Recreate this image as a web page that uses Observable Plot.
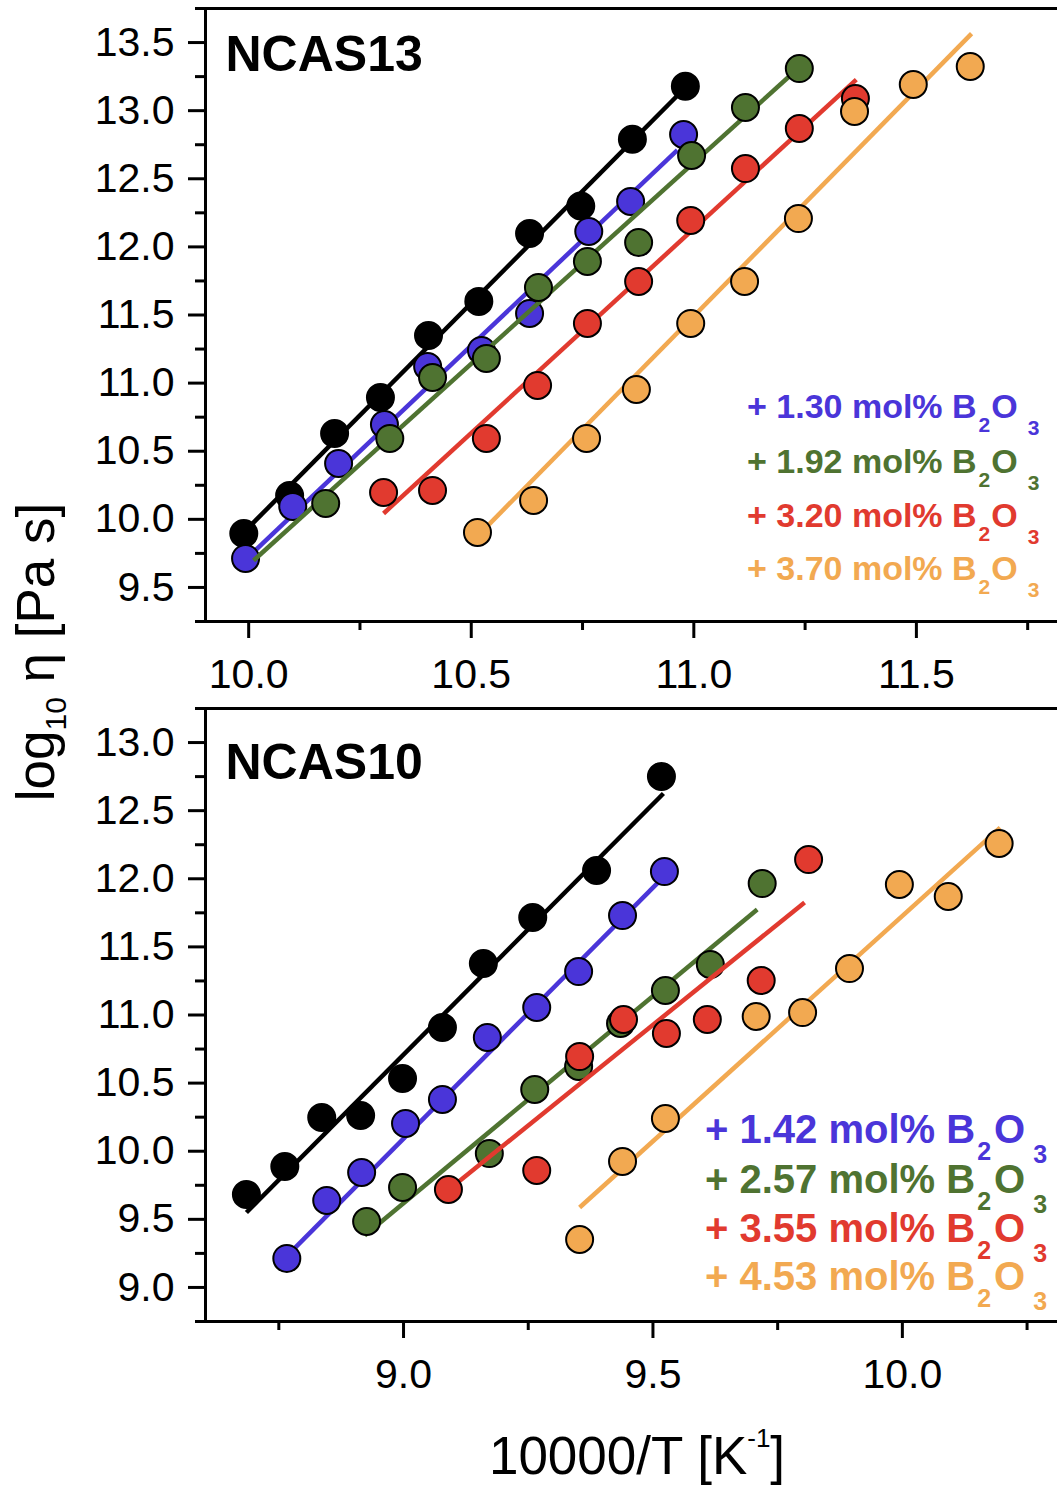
<!DOCTYPE html>
<html>
<head>
<meta charset="utf-8">
<script src="https://cdn.jsdelivr.net/npm/d3@7"></script>
<script src="https://cdn.jsdelivr.net/npm/@observablehq/plot@0.6"></script>
<style>
  html, body { margin: 0; padding: 0; background: #ffffff; }
  #wrap { position: relative; width: 1057px; height: 1494px; overflow: hidden; font-family: "Liberation Sans", Arial, sans-serif; }
  #top, #bottom { position: absolute; left: 0; }
  #top { top: 0; }
  #bottom { top: 700px; }
</style>
</head>
<body>
<div id="wrap">
  <div id="top"></div>
  <div id="bottom"></div>
</div>
<script>
// ---------- data ----------
const seriesColors = ["#000000", "#4a35d9", "#4f7331", "#e13a2f", "#f2a951"];

// NCAS13 panel: [10000/T, log10 eta]
const ncas13_base = [[9.989,9.896],[10.092,10.175],[10.193,10.63],[10.296,10.894],[10.404,11.35],[10.517,11.60],[10.631,12.098],[10.746,12.30],[10.862,12.79],[10.981,13.18]];
const ncas13_b130 = [[9.993,9.713],[10.099,10.095],[10.202,10.41],[10.305,10.696],[10.402,11.122],[10.523,11.24],[10.631,11.511],[10.764,12.113],[10.858,12.333],[10.977,12.825]];
const ncas13_b192 = [[10.173,10.117],[10.317,10.594],[10.413,11.041],[10.534,11.181],[10.651,11.702],[10.761,11.893],[10.876,12.032],[10.995,12.671],[11.116,13.023],[11.237,13.309]];
const ncas13_b320 = [[10.303,10.197],[10.413,10.212],[10.534,10.594],[10.649,10.983],[10.761,11.438],[10.876,11.746],[10.993,12.194],[11.116,12.575],[11.237,12.869],[11.363,13.089]];
const ncas13_b370 = [[10.514,9.904],[10.640,10.139],[10.759,10.594],[10.871,10.953],[10.993,11.438],[11.114,11.746],[11.235,12.208],[11.361,12.994],[11.493,13.192],[11.621,13.324]];
// fit lines: [x1, y1, x2, y2]
const ncas13_fits = [
  [9.993, 9.918, 10.975, 13.15],
  [9.998, 9.72, 10.963, 12.71],
  [10.011, 9.698, 11.224, 13.28],
  [10.303, 10.043, 11.365, 13.228],
  [10.518, 9.89, 11.624, 13.566]
];

// NCAS10 panel
const ncas10_base = [[8.685,9.683],[8.762,9.888],[8.836,10.248],[8.914,10.262],[8.998,10.534],[9.078,10.908],[9.160,11.378],[9.259,11.716],[9.387,12.061],[9.517,12.75]];
const ncas10_b142 = [[8.766,9.213],[8.846,9.639],[8.916,9.844],[9.004,10.204],[9.078,10.38],[9.168,10.835],[9.267,11.055],[9.351,11.319],[9.439,11.73],[9.523,12.053]];
const ncas10_b257 = [[8.926,9.484],[8.998,9.734],[9.172,9.983],[9.263,10.453],[9.351,10.622],[9.435,10.938],[9.525,11.18],[9.615,11.371],[9.719,11.965]];
const ncas10_b355 = [[9.090,9.719],[9.267,9.859],[9.353,10.695],[9.441,10.967],[9.527,10.864],[9.609,10.967],[9.717,11.253],[9.812,12.141]];
const ncas10_b453 = [[9.353,9.352],[9.439,9.925],[9.525,10.24],[9.707,10.989],[9.800,11.018],[9.894,11.341],[9.994,11.958],[10.092,11.87],[10.194,12.259]];
const ncas10_fits = [
  [8.685, 9.55, 9.521, 12.626],
  [8.766, 9.23, 9.515, 11.99],
  [8.922, 9.382, 9.709, 11.774],
  [9.088, 9.71, 9.804, 11.826],
  [9.353, 9.587, 10.196, 12.376]
];

// legends
const ncas13_legend = ["1.30", "1.92", "3.20", "3.70"];
const ncas10_legend = ["1.42", "2.57", "3.55", "4.53"];
const panelTitles = ["NCAS13", "NCAS10"];

// axes
const topXDomain = [9.903, 11.817];
const topYDomain = [9.25, 13.75];
const topXMajor = [10.0, 10.5, 11.0, 11.5];
const topXMinor = [10.25, 10.75, 11.25, 11.75];
const topYMajor = [9.5, 10.0, 10.5, 11.0, 11.5, 12.0, 12.5, 13.0, 13.5];
const topYMinor = [9.25, 9.75, 10.25, 10.75, 11.25, 11.75, 12.25, 12.75, 13.25, 13.75];

const botXDomain = [8.603, 10.311];
const botYDomain = [8.75, 13.25];
const botXMajor = [9.0, 9.5, 10.0];
const botXMinor = [8.75, 9.25, 9.75, 10.25];
const botYMajor = [9.0, 9.5, 10.0, 10.5, 11.0, 11.5, 12.0, 12.5, 13.0];
const botYMinor = [8.75, 9.25, 9.75, 10.25, 10.75, 11.25, 11.75, 12.25, 12.75, 13.25];

const yLabelParts = ["log", "10", " η [Pa s]"];
const xLabelParts = ["10000/T [K", "-1", "]"];

// ---------- drawing ----------
const fmt = d3.format(".1f");
const FONT = "Liberation Sans, Arial, sans-serif";

function panel({series, fits, xDomain, yDomain, xMajor, xMinor, yMajor, yMinor, title, titleDy, height, marginBottom}) {
  const marks = [];
  series.forEach((s, i) => {
    marks.push(Plot.link([fits[i]], {
      x1: d => d[0], y1: d => d[1], x2: d => d[2], y2: d => d[3],
      stroke: seriesColors[i], strokeWidth: 4.5
    }));
    marks.push(Plot.dot(s, {
      x: d => d[0], y: d => d[1], r: 13.5,
      fill: seriesColors[i], stroke: "#000", strokeWidth: 2
    }));
  });
  marks.push(
    Plot.ruleX([xDomain[0]], {stroke: "#000", strokeWidth: 3}),
    Plot.ruleY([yDomain[0]], {stroke: "#000", strokeWidth: 3}),
    Plot.ruleY([yDomain[1]], {stroke: "#000", strokeWidth: 3}),
    Plot.axisY(yMajor, {tickSize: 17, tickPadding: 14, tickFormat: fmt, fontSize: 41, strokeWidth: 3, label: null}),
    Plot.axisY(yMinor, {tickSize: 10, tickFormat: () => "", strokeWidth: 3, label: null}),
    Plot.axisX(xMajor, {tickSize: 17, tickPadding: 20, tickFormat: fmt, fontSize: 41, strokeWidth: 3, label: null}),
    Plot.axisX(xMinor, {tickSize: 9, tickFormat: () => "", strokeWidth: 3, label: null}),
    Plot.text([title], {
      frameAnchor: "top-left", text: d => d, dx: 20, dy: titleDy,
      textAnchor: "start", lineAnchor: "top", fontSize: 50, fontWeight: "bold", fill: "#000"
    })
  );
  return Plot.plot({
    width: 1057, height,
    marginLeft: 205, marginRight: 0, marginTop: 8, marginBottom,
    x: {domain: xDomain, label: null},
    y: {domain: yDomain, label: null},
    style: {fontFamily: FONT, color: "#000", background: "transparent", overflow: "visible"},
    marks
  });
}

document.getElementById("top").append(panel({
  series: [ncas13_base, ncas13_b130, ncas13_b192, ncas13_b320, ncas13_b370],
  fits: ncas13_fits,
  xDomain: topXDomain, yDomain: topYDomain,
  xMajor: topXMajor, xMinor: topXMinor, yMajor: topYMajor, yMinor: topYMinor,
  title: panelTitles[0], titleDy: 27, height: 700, marginBottom: 79
}));

document.getElementById("bottom").append(panel({
  series: [ncas10_base, ncas10_b142, ncas10_b257, ncas10_b355, ncas10_b453],
  fits: ncas10_fits,
  xDomain: botXDomain, yDomain: botYDomain,
  xMajor: botXMajor, xMinor: botXMinor, yMajor: botYMajor, yMinor: botYMinor,
  title: panelTitles[1], titleDy: 35, height: 794, marginBottom: 173
}));

// overlay for legends and shared axis labels
const overlay = d3.select("#wrap").append("svg")
  .attr("width", 1057).attr("height", 1494)
  .style("position", "absolute").style("left", 0).style("top", 0)
  .style("pointer-events", "none")
  .attr("font-family", FONT);

function legend(labels, x, baselines, fontSize, subSize, subDy, dxO, dx3) {
  labels.forEach((lab, i) => {
    const t = overlay.append("text")
      .attr("x", x).attr("y", baselines[i])
      .attr("fill", seriesColors[i + 1])
      .attr("font-size", fontSize).attr("font-weight", "bold");
    t.append("tspan").text("+ " + lab + " mol% B");
    t.append("tspan").attr("font-size", subSize).attr("dy", subDy).attr("dx", 2).text("2");
    t.append("tspan").attr("dy", -subDy).attr("dx", dxO).text("O");
    t.append("tspan").attr("font-size", subSize).attr("dy", subDy + 3).attr("dx", dx3).text("3");
  });
}
legend(ncas13_legend, 747, [418, 473, 527, 580], 34, 21, 14, 1, 10);
legend(ncas10_legend, 705, [1143, 1193, 1242, 1290], 40, 25, 17, 3, 8);

// y label
const yl = overlay.append("text")
  .attr("transform", "translate(54,652) rotate(-90)")
  .attr("text-anchor", "middle")
  .attr("font-size", 53).attr("fill", "#000");
yl.append("tspan").text(yLabelParts[0]);
yl.append("tspan").attr("font-size", 30).attr("dy", 12).text(yLabelParts[1]);
yl.append("tspan").attr("dy", -12).text(yLabelParts[2]);

// x label
const xl = overlay.append("text")
  .attr("x", 637).attr("y", 1474)
  .attr("text-anchor", "middle")
  .attr("font-size", 53).attr("fill", "#000");
xl.append("tspan").text(xLabelParts[0]);
xl.append("tspan").attr("font-size", 26).attr("dy", -27).text(xLabelParts[1]);
xl.append("tspan").attr("dy", 27).text(xLabelParts[2]);
</script>
</body>
</html>
